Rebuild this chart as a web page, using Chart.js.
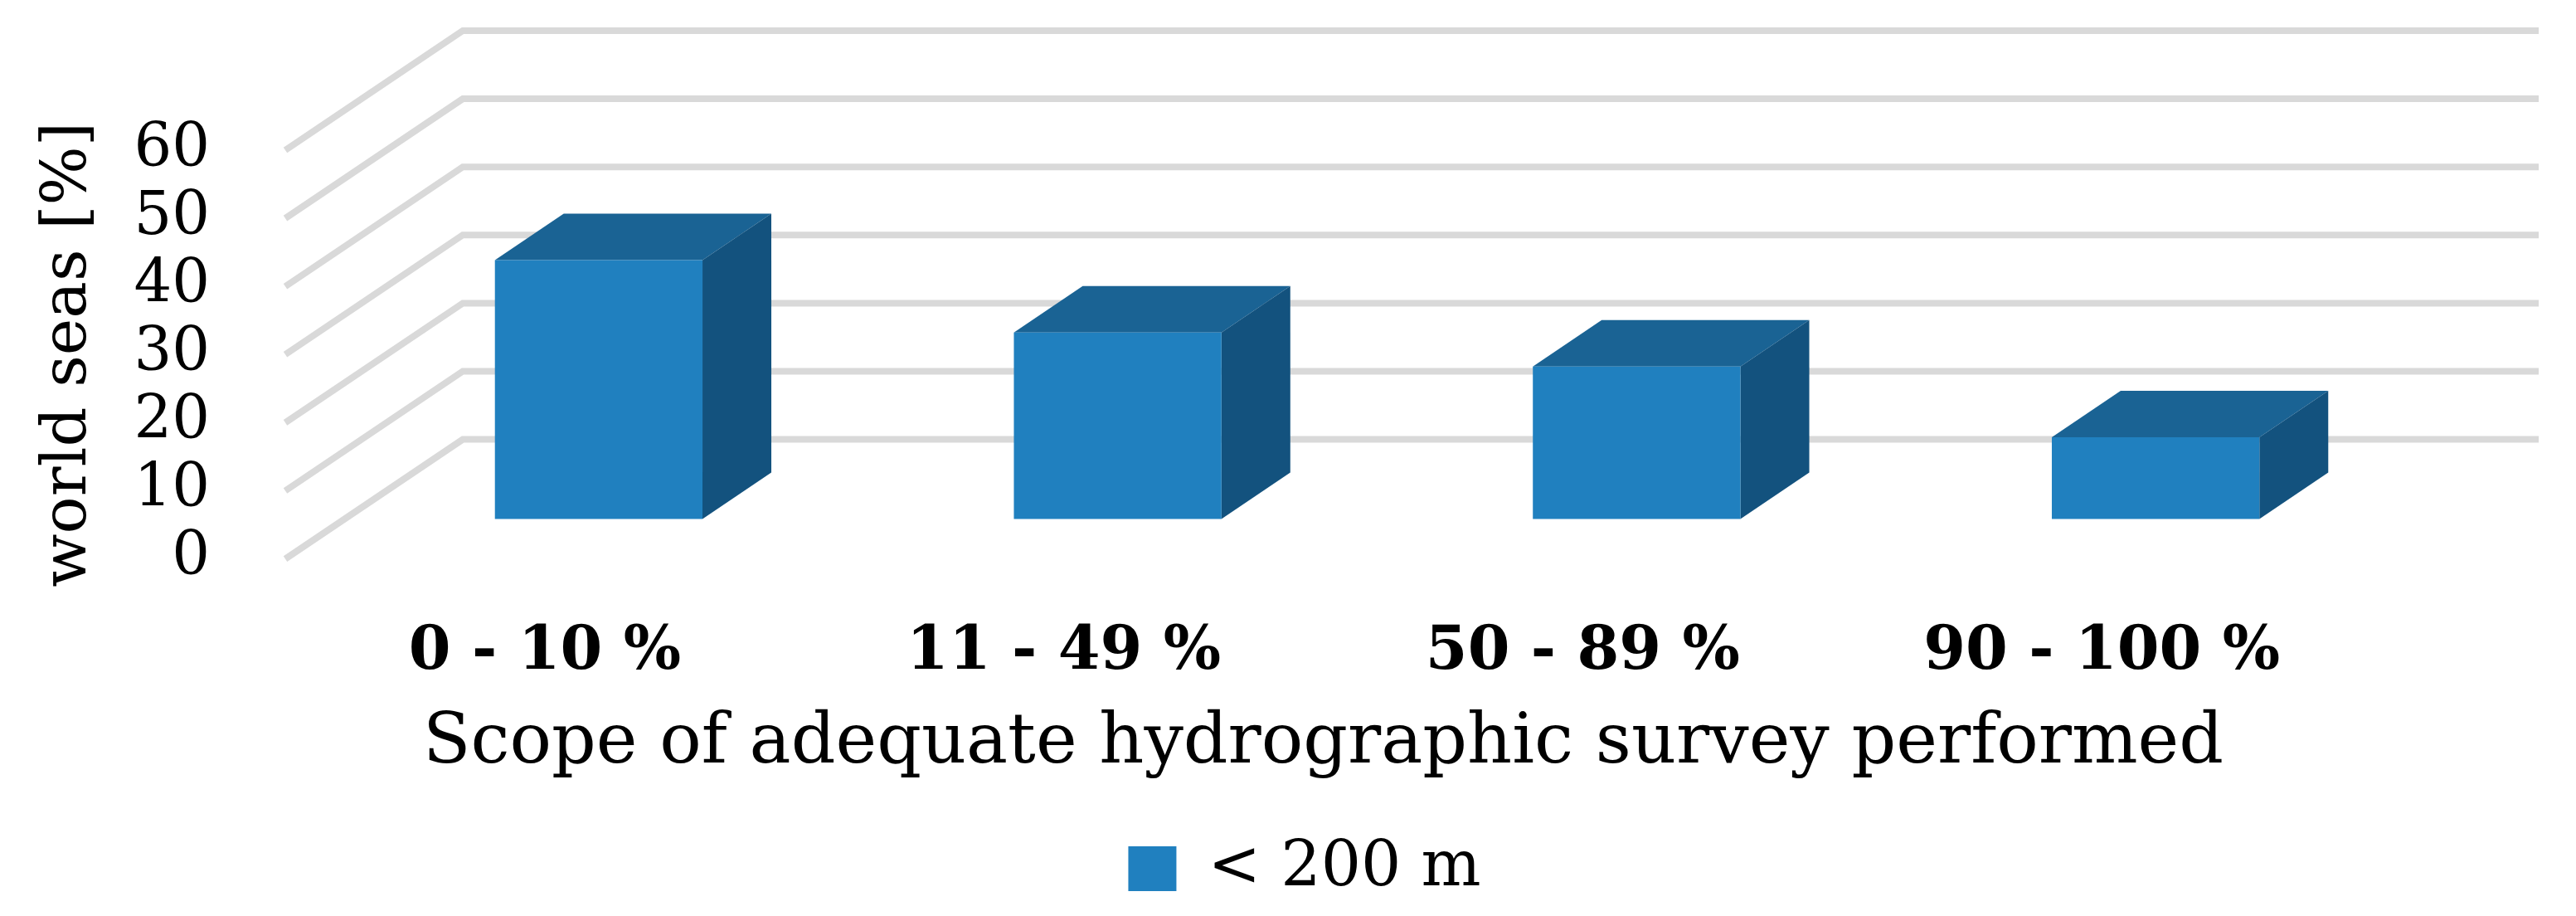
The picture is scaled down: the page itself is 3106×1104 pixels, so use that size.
<!DOCTYPE html>
<html>
<head>
<meta charset="utf-8">
<style>
  html, body { margin: 0; padding: 0; background: #fff; }
  canvas { display: block; }
</style>
<script src="https://cdn.jsdelivr.net/npm/chart.js@4"></script>
</head>
<body>
<canvas id="surveyChart" width="3106" height="1104"></canvas>
<script>
const categories = ['0 - 10 %', '11 - 49 %', '50 - 89 %', '90 - 100 %'];
const seriesName = '< 200 m';
const seriesValues = [38, 27.4, 22.4, 12];
const yTicks = [0, 10, 20, 30, 40, 50, 60];

const serif = '"DejaVu Serif", serif';
const faceColor = '#2080bf';
const topColor = '#1a6394';
const sideColor = '#13527e';

// fake 3D box look, all offsets relative to the scales
const wallDepth = { x: 214, y: 144 };
const barShift = { x: 65, y: -48 };
const barDepth = { x: 83, y: 56 };
const legendShift = 130;

const fakeDepth = {
    id: 'fakeDepth',
    afterLayout(chart) {
        // legend sits under the whole picture, not under the front plane
        chart.legend.left += legendShift;
        chart.legend.right += legendShift;
    },
    beforeDatasetsDraw(chart) {
        const { ctx, chartArea } = chart;
        const yScale = chart.scales.y;
        ctx.save();
        ctx.strokeStyle = '#d9d9d9';
        ctx.lineWidth = 8;
        yScale.ticks.forEach(t => {
            const y = yScale.getPixelForValue(t.value);
            ctx.beginPath();
            ctx.moveTo(chartArea.left, y);
            ctx.lineTo(chartArea.left + wallDepth.x, y - wallDepth.y);
            ctx.lineTo(chartArea.right + wallDepth.x, y - wallDepth.y);
            ctx.stroke();
        });
        ctx.restore();
    },
    beforeDatasetDraw(chart, args) {
        const { ctx } = chart;
        ctx.save();
        ctx.translate(barShift.x, barShift.y);
        args.meta.data.forEach(bar => {
            const left = bar.x - bar.width / 2;
            const right = bar.x + bar.width / 2;
            // top face
            ctx.fillStyle = topColor;
            ctx.beginPath();
            ctx.moveTo(left, bar.y);
            ctx.lineTo(left + barDepth.x, bar.y - barDepth.y);
            ctx.lineTo(right + barDepth.x, bar.y - barDepth.y);
            ctx.lineTo(right, bar.y);
            ctx.closePath();
            ctx.fill();
            // side face
            ctx.fillStyle = sideColor;
            ctx.beginPath();
            ctx.moveTo(right, bar.y);
            ctx.lineTo(right + barDepth.x, bar.y - barDepth.y);
            ctx.lineTo(right + barDepth.x, bar.base - barDepth.y);
            ctx.lineTo(right, bar.base);
            ctx.closePath();
            ctx.fill();
        });
    },
    afterDatasetDraw(chart) {
        chart.ctx.restore();
    }
};

new Chart(document.getElementById('surveyChart'), {
    type: 'bar',
    data: {
        labels: categories,
        datasets: [{
            label: seriesName,
            data: seriesValues,
            backgroundColor: faceColor,
            categoryPercentage: 1,
            barPercentage: 0.4,
            clip: false
        }]
    },
    options: {
        responsive: false,
        animation: false,
        layout: { padding: { left: 39, right: 259, top: 181, bottom: 9 } },
        plugins: {
            tooltip: { enabled: false },
            title: { display: false },
            legend: {
                position: 'bottom',
                labels: {
                    color: '#000',
                    font: { family: serif, size: 76 },
                    boxWidth: 58,
                    boxHeight: 54,
                    padding: 0
                }
            }
        },
        scales: {
            x: {
                grid: { display: false },
                border: { display: false },
                ticks: {
                    color: '#000',
                    font: { family: serif, size: 73, weight: 'bold' },
                    padding: 62,
                    maxRotation: 0
                },
                title: {
                    display: true,
                    text: 'Scope of adequate hydrographic survey performed',
                    color: '#000',
                    font: { family: serif, size: 84 },
                    padding: { top: -46, bottom: 61 }
                }
            },
            y: {
                min: 0,
                max: 60,
                afterBuildTicks(scale) {
                    scale.ticks = yTicks.map(v => ({ value: v }));
                },
                afterFit(scale) {
                    scale.width = 305;
                },
                grid: { display: false },
                border: { display: false },
                ticks: {
                    color: '#000',
                    font: { family: serif, size: 72 },
                    padding: 83,
                    autoSkip: false
                },
                title: {
                    display: true,
                    text: 'world seas [%]',
                    color: '#000',
                    font: { family: serif, size: 75 },
                    padding: { top: 0, bottom: 24 }
                }
            }
        }
    },
    plugins: [fakeDepth]
});
</script>
</body>
</html>
